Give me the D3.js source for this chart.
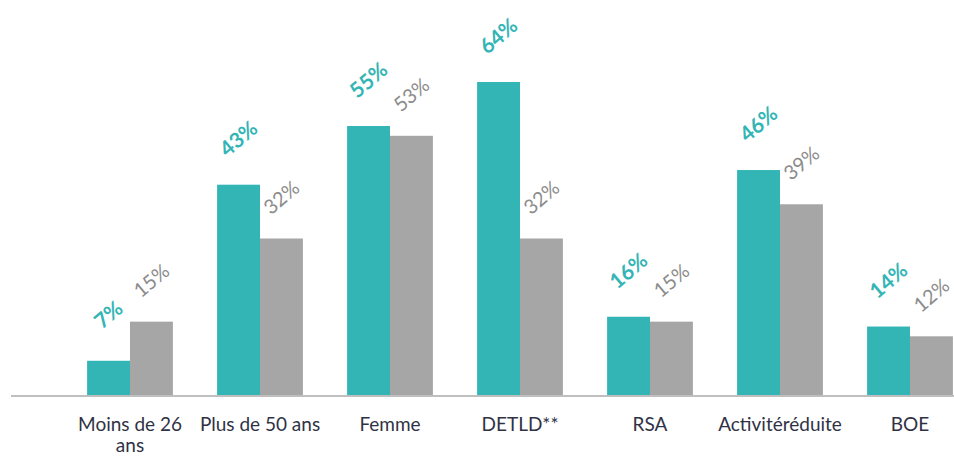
<!DOCTYPE html>
<meta charset="utf-8">
<style>
  body { margin: 0; background: #fff; }
  .cat text { font-family: Lato, "Open Sans", sans-serif; font-size: 19px; fill: #2f3245; }
  .lbl { font-family: Lato, sans-serif; }
</style>
<body>
  <svg class="chart"></svg>
</body>
<script src="https://d3js.org/d3.v7.min.js"></script>
<script>
  // data
  let categories = ["Moins de 26 ans", "Plus de 50 ans", "Femme", "DETLD**", "RSA", "Activitéréduite", "BOE"];
  let seriesA = [7, 43, 55, 64, 16, 46, 14];   // teal
  let seriesB = [15, 32, 53, 32, 15, 39, 12];  // grey

  let width = 954, height = 457;
  let baseline = 395;

  let svg = d3.select(".chart")
    .attr("width", width)
    .attr("height", height);

  let x = d3.scaleBand().domain(categories).range([65, 975]).paddingInner(0.34).paddingOuter(0.17);
  let xs = d3.scaleBand().domain(["a", "b"]).range([0, x.bandwidth()]);
  let y = d3.scaleLinear().domain([0, 64]).range([baseline, 82]);

  let rows = categories.map((c, i) => ({ cat: c, a: seriesA[i], b: seriesB[i] }));

  let groups = svg.selectAll(".grp")
    .data(rows)
    .join("g")
    .attr("class", "grp")
    .attr("transform", d => "translate(" + x(d.cat) + ",0)");

  groups.append("rect")
    .attr("x", xs("a"))
    .attr("y", d => y(d.a))
    .attr("width", xs.bandwidth())
    .attr("height", d => baseline - y(d.a))
    .attr("fill", "#33b5b6");

  groups.append("rect")
    .attr("x", xs("b"))
    .attr("y", d => y(d.b))
    .attr("width", xs.bandwidth())
    .attr("height", d => baseline - y(d.b))
    .attr("fill", "#a6a6a6");

  // rotated value labels
  groups.append("text")
    .attr("class", "lbl")
    .attr("transform", d => "translate(" + (xs("a") + xs.bandwidth() / 2) + "," + (y(d.a) - 46) + ") rotate(-40)")
    .attr("text-anchor", "middle")
    .attr("dy", "0.35em")
    .attr("fill", "#33b5b6")
    .style("font-size", "21px")
    .style("font-weight", "bold")
    .text(d => d.a + "%");

  groups.append("text")
    .attr("class", "lbl")
    .attr("transform", d => "translate(" + (xs("b") + xs.bandwidth() / 2) + "," + (y(d.b) - 41) + ") rotate(-40)")
    .attr("text-anchor", "middle")
    .attr("dy", "0.35em")
    .attr("fill", "#8c8c8c")
    .style("font-size", "20px")
    .text(d => d.b + "%");

  // baseline
  svg.append("line")
    .attr("x1", 11).attr("x2", width)
    .attr("y1", baseline + 1).attr("y2", baseline + 1)
    .attr("stroke", "#bfbfbf")
    .attr("stroke-width", 2);

  // category labels, wrapping the long first one
  let xAxis = d3.axisBottom(x).tickSize(0).tickPadding(0);
  let gx = svg.append("g")
    .attr("class", "cat")
    .attr("transform", "translate(0," + (baseline + 36) + ")")
    .call(xAxis);
  gx.select(".domain").remove();
  gx.selectAll("text")
    .attr("dy", 0)
    .each(function(d) {
      let t = d3.select(this);
      if (d === "Moins de 26 ans") {
        t.text(null);
        t.append("tspan").attr("x", 0).attr("dy", 0).text("Moins de 26");
        t.append("tspan").attr("x", 0).attr("dy", 21).text("ans");
      }
    });
</script>
